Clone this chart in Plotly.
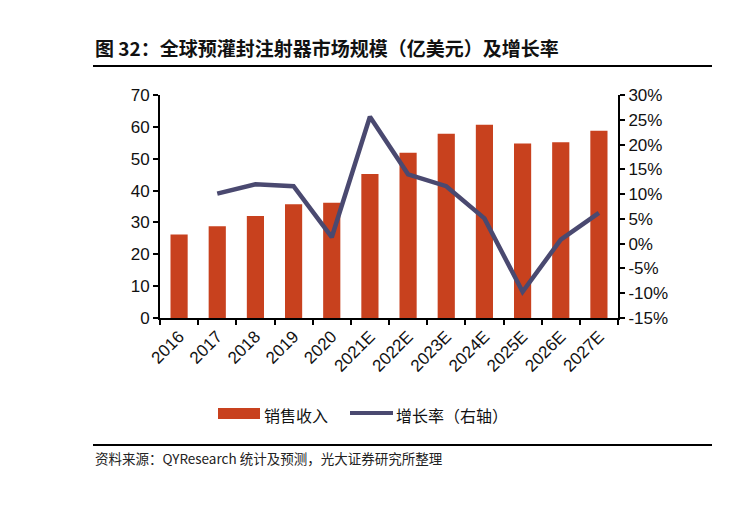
import plotly.graph_objects as go

categories = ["2016", "2017", "2018", "2019", "2020", "2021E", "2022E",
              "2023E", "2024E", "2025E", "2026E", "2027E"]
revenue = [26.2, 28.8, 32.0, 35.7, 36.2, 45.2, 51.9, 57.8, 60.7, 54.8, 55.2, 58.8]
growth = [None, 0.101, 0.120, 0.116, 0.013, 0.256, 0.140, 0.116, 0.051, -0.097, 0.008, 0.062]

left_ticks = [0, 10, 20, 30, 40, 50, 60, 70]
right_ticks = [-0.15, -0.10, -0.05, 0, 0.05, 0.10, 0.15, 0.20, 0.25, 0.30]
right_labels = ["-15%", "-10%", "-5%", "0%", "5%", "10%", "15%", "20%", "25%", "30%"]

title_text = "图 32：全球预灌封注射器市场规模（亿美元）及增长率"
source_text = "资料来源：QYResearch 统计及预测，光大证券研究所整理"
bar_name = "销售收入"
line_name = "增长率（右轴）"

BAR_COLOR = "#C8411E"
LINE_COLOR = "#4A4970"
NUM_FONT = "Liberation Sans, Arial, sans-serif"
CJK_FONT = "Noto Sans CJK SC, sans-serif"

fig = go.Figure()
fig.add_trace(go.Bar(x=categories, y=revenue, name=bar_name,
                     marker=dict(color=BAR_COLOR, line=dict(width=0)),
                     yaxis="y", showlegend=False))
fig.add_trace(go.Scatter(x=categories, y=growth, name=line_name, mode="lines",
                         line=dict(color=LINE_COLOR, width=4.5),
                         yaxis="y2", showlegend=False, connectgaps=False))

W, H = 740, 506
L, R, T, B = 160, 618, 95, 318

fig.update_layout(
    width=W, height=H,
    margin=dict(l=L, r=W - R, t=T, b=H - B, pad=0),
    paper_bgcolor="white", plot_bgcolor="white",
    bargap=0.55,
    xaxis=dict(type="category", showline=True, linecolor="black", linewidth=2,
               ticks="outside", tickson="boundaries", ticklen=5, tickwidth=2,
               tickcolor="black", tickangle=-45,
               tickfont=dict(family=NUM_FONT, size=17, color="#111"),
               showgrid=False, zeroline=False),
    yaxis=dict(range=[0, 70], tickvals=left_ticks, showline=True, linecolor="black",
               linewidth=2, ticks="outside", ticklen=5, tickwidth=2, tickcolor="black",
               tickfont=dict(family=NUM_FONT, size=17, color="#111"),
               showgrid=False, zeroline=False),
    yaxis2=dict(range=[-0.15, 0.30], tickvals=right_ticks, ticktext=right_labels,
                overlaying="y", side="right", showline=True, linecolor="black",
                linewidth=2, ticks="outside", ticklen=5, tickwidth=2, tickcolor="black",
                tickfont=dict(family=NUM_FONT, size=17, color="#111"),
                showgrid=False, zeroline=False),
    font=dict(family=CJK_FONT),
)

def px_x(x):
    return (x - L) / (R - L)

def px_y(y):
    return (B - y) / (B - T)

# Title and rules
fig.add_annotation(text="<b>" + title_text + "</b>", xref="paper", yref="paper",
                   x=px_x(93), y=px_y(47), xanchor="left", yanchor="middle",
                   showarrow=False, font=dict(family=CJK_FONT, size=19, color="#111"))
fig.add_shape(type="line", xref="paper", yref="paper",
              x0=px_x(93), x1=px_x(712), y0=px_y(66), y1=px_y(66),
              line=dict(color="black", width=2))
fig.add_shape(type="line", xref="paper", yref="paper",
              x0=px_x(93), x1=px_x(712), y0=px_y(445), y1=px_y(445),
              line=dict(color="black", width=2))
fig.add_annotation(text=source_text, xref="paper", yref="paper",
                   x=px_x(93), y=px_y(458), xanchor="left", yanchor="middle",
                   showarrow=False, font=dict(family=CJK_FONT, size=13.5, color="#222"))

# Custom legend
fig.add_shape(type="rect", xref="paper", yref="paper",
              x0=px_x(218), x1=px_x(260), y0=px_y(408), y1=px_y(419),
              fillcolor=BAR_COLOR, line=dict(width=0))
fig.add_annotation(text=bar_name, xref="paper", yref="paper",
                   x=px_x(262), y=px_y(415), xanchor="left", yanchor="middle",
                   showarrow=False, font=dict(family=CJK_FONT, size=16, color="#111"))
fig.add_shape(type="line", xref="paper", yref="paper",
              x0=px_x(350), x1=px_x(393), y0=px_y(413), y1=px_y(413),
              line=dict(color=LINE_COLOR, width=4))
fig.add_annotation(text=line_name, xref="paper", yref="paper",
                   x=px_x(394), y=px_y(415), xanchor="left", yanchor="middle",
                   showarrow=False, font=dict(family=CJK_FONT, size=16, color="#111"))

fig.write_html("out.html", config={"displayModeBar": False},
               post_script="document.body.style.margin='0';document.body.style.overflow='hidden';")
